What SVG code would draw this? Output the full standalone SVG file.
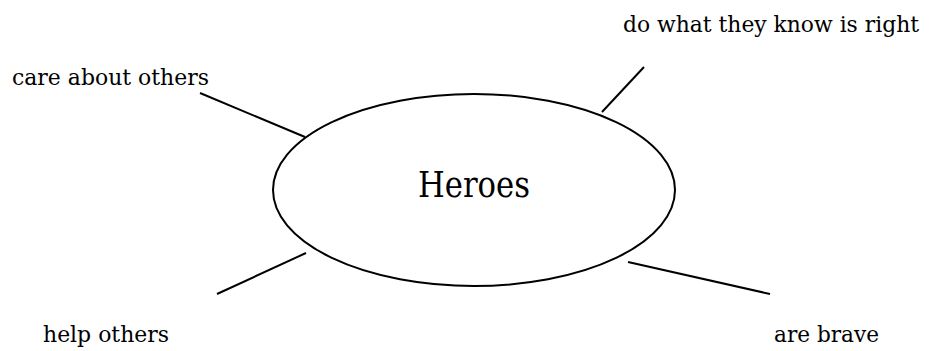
<svg xmlns="http://www.w3.org/2000/svg" width="929" height="351" viewBox="0 0 929 351">
<style>
.t{font-family:"DejaVu Serif","Liberation Serif",serif;font-size:22px;fill:#000}
.c{stroke:#000;stroke-width:2;fill:none}
</style>
<rect width="929" height="351" fill="#fff"/>
<g id="connectors">
<line class="c" x1="200" y1="93" x2="305" y2="137"/>
<line class="c" x1="644" y1="67" x2="602" y2="112"/>
<line class="c" x1="217" y1="294" x2="306" y2="253"/>
<line class="c" x1="628" y1="262" x2="770" y2="294"/>
</g>
<g id="heroes">
<ellipse class="c" cx="474" cy="190" rx="201" ry="96" fill="#fff"/>
<text class="t" x="418" y="197" style="font-size:35px" textLength="112" lengthAdjust="spacingAndGlyphs">Heroes</text>
</g>
<g id="care"><text class="t" x="12" y="85" textLength="197" lengthAdjust="spacingAndGlyphs">care about others</text></g>
<g id="right"><text class="t" x="623" y="32" textLength="296" lengthAdjust="spacingAndGlyphs">do what they know is right</text></g>
<g id="help"><text class="t" x="43" y="342" textLength="126" lengthAdjust="spacingAndGlyphs">help others</text></g>
<g id="brave"><text class="t" x="774" y="342" textLength="105" lengthAdjust="spacingAndGlyphs">are brave</text></g>
</svg>
